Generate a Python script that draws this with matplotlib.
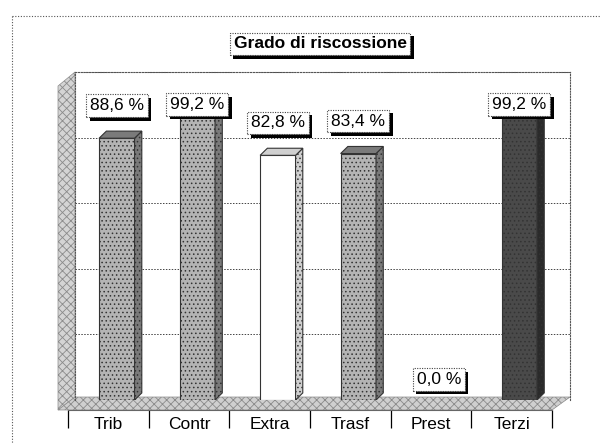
import matplotlib
matplotlib.use("Agg")
import matplotlib.pyplot as plt
import matplotlib.patheffects as pe
from matplotlib.patches import Polygon
import numpy as np

categories = ["Trib", "Contr", "Extra", "Trasf", "Prest", "Terzi"]
values = [88.6, 99.2, 82.8, 83.4, 0.0, 99.2]
bar_colors = ["#b4b4b4", "#b4b4b4", "#ffffff", "#b4b4b4", "#b4b4b4", "#4a4a4a"]
side_colors = ["#7a7a7a", "#7a7a7a", "#d0d0d0", "#7a7a7a", "#7a7a7a", "#2a2a2a"]
hatches = ["....", "....", "", "....", "....", "...."]
title = "Grado di riscossione"

plt.rcParams["font.family"] = ["Liberation Sans", "DejaVu Sans"]
plt.rcParams["hatch.linewidth"] = 0.6

W, H = 615, 444
fig = plt.figure(figsize=(W / 100, H / 100), dpi=100)


def fx(px):
    return px / W


def fy(py):
    return 1 - py / H


def pix_poly(pts, **kw):
    p = Polygon([(fx(a), fy(b)) for a, b in pts], closed=True,
                transform=fig.transFigure, **kw)
    fig.add_artist(p)
    return p


# outer dotted frame of the scanned page
fig.add_artist(plt.Line2D([fx(12), fx(12)], [fy(16), fy(444)], transform=fig.transFigure,
                          color="#555555", lw=0.8, ls=(0, (1, 1.5))))
fig.add_artist(plt.Line2D([fx(12), fx(600)], [fy(16), fy(16)], transform=fig.transFigure,
                          color="#555555", lw=0.8, ls=(0, (1, 1.5))))

# 3D left wall and floor
pix_poly([(58, 410), (75, 397), (75, 72), (58, 86)], facecolor="#d4d4d4",
         edgecolor="#8a8a8a", hatch="xxxx", lw=0.5, zorder=0)
pix_poly([(58, 410), (552, 410), (570, 397), (75, 397)], facecolor="#cfcfcf",
         edgecolor="#8a8a8a", hatch="xxxx", lw=0.5, zorder=0)

# back wall axes
ax = fig.add_axes([fx(75), fy(400), fx(570) - fx(75), (400 - 72) / H])
ax.set_xlim(-0.52, 5.63)
ax.set_ylim(0, 111)
ax.set_yticks(np.linspace(0, 111, 6))
ax.set_xticks([])
ax.tick_params(axis="y", length=0, labelleft=False)
ax.grid(axis="y", color="#444444", lw=0.7, ls=(0, (1.5, 1.5)))
ax.set_axisbelow(True)
for s in ax.spines.values():
    s.set_linestyle((0, (1, 1.5)))
    s.set_linewidth(0.8)
    s.set_color("#555555")
ax.spines["bottom"].set_visible(False)
ax.patch.set_alpha(0)

x = np.arange(len(categories))
w = 0.44
dx, dy = 0.09, 2.4
bars = ax.bar(x, values, width=w, color=bar_colors, edgecolor="#333333",
              hatch=hatches, linewidth=0.8, zorder=3)
for xi, v, sc in zip(x, values, side_colors):
    if v <= 0:
        continue
    r = xi + w / 2
    ax.add_patch(Polygon([(r, 0), (r + dx, dy), (r + dx, v + dy), (r, v)],
                         closed=True, facecolor=sc, edgecolor="#333333",
                         lw=0.8, hatch="....", zorder=3))
    ax.add_patch(Polygon([(xi - w / 2, v), (r, v), (r + dx, v + dy), (xi - w / 2 + dx, v + dy)],
                         closed=True, facecolor=sc, edgecolor="#333333",
                         lw=0.8, zorder=3))

shadow = [pe.SimplePatchShadow(offset=(2.6, -2.6), shadow_rgbFace="black", alpha=1.0),
          pe.Normal()]


def shadow_label(axis, txt, xy, coords, size, weight="normal"):
    t = axis.annotate(txt, xy=xy, xycoords=coords, ha="center", va="center",
                      fontsize=size, weight=weight, color="black",
                      bbox=dict(boxstyle="square,pad=0.22", fc="white", ec="#444444",
                                lw=0.8, ls=(0, (1, 1.2))),
                      zorder=6, annotation_clip=False)
    t.get_bbox_patch().set_path_effects(shadow)
    return t


for xi, v in zip(x, values):
    label = f"{v:.1f} %".replace(".", ",")
    ly = min(v + 11, 100) if v > 0 else 7
    shadow_label(ax, label, (xi, ly), "data", 12.5)

# title box
shadow_label(ax, title, (fx(320), fy(44)), "figure fraction", 12.5, weight="bold")

# front category axis
ax2 = fig.add_axes([fx(68), fy(410), fx(552) - fx(68), 0.0001])
ax2.set_xlim(-0.5, len(categories) - 0.5)
ax2.set_ylim(0, 1)
ax2.set_xticks(np.arange(len(categories) + 1) - 0.5)
ax2.set_xticklabels([])
ax2.set_xticks(x, categories, minor=True)
ax2.tick_params(axis="x", which="major", direction="out", length=13, width=0.9, color="black")
ax2.tick_params(axis="x", which="minor", length=0, pad=5, labelsize=12.5)
ax2.set_yticks([])
for side in ["top", "left", "right"]:
    ax2.spines[side].set_visible(False)
ax2.spines["bottom"].set_color("#666666")
ax2.spines["bottom"].set_linewidth(0.8)
ax2.patch.set_alpha(0)

fig.savefig("out.png", dpi=100)
